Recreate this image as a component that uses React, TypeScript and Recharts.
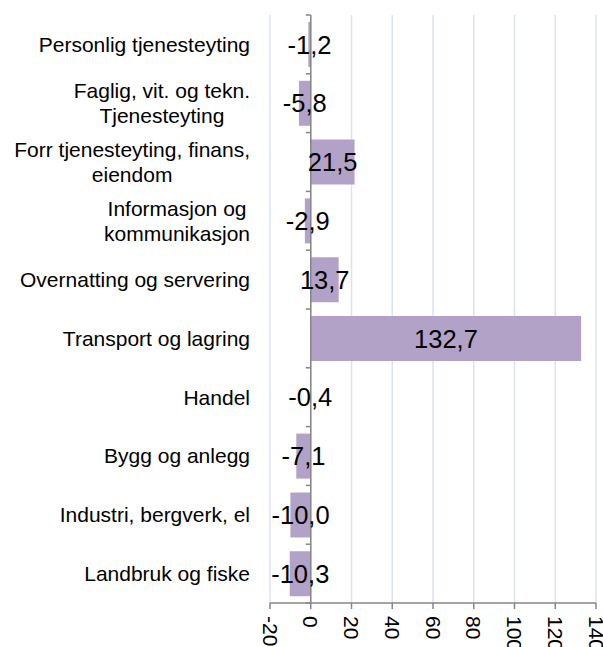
import React from "react";
import {
  BarChart,
  Bar,
  XAxis,
  YAxis,
  CartesianGrid,
  LabelList,
  ReferenceLine,
} from "recharts";

const categories = [
  "Personlig tjenesteyting",
  "Faglig, vit. og tekn.\nTjenesteyting",
  "Forr tjenesteyting, finans,\neiendom",
  "Informasjon og\nkommunikasjon",
  "Overnatting og servering",
  "Transport og lagring",
  "Handel",
  "Bygg og anlegg",
  "Industri, bergverk, el",
  "Landbruk og fiske",
];

const values = [-1.2, -5.8, 21.5, -2.9, 13.7, 132.7, -0.4, -7.1, -10.0, -10.3];

const xTicks = [-20, 0, 20, 40, 60, 80, 100, 120, 140];

const data = categories.map((c, i) => ({ name: c, value: values[i] }));

const FONT = '"Liberation Sans", Arial, sans-serif';
const CAT_FONT_SIZE = 21;
const LINE_H = 25;

let ctx: CanvasRenderingContext2D | null = null;
function measure(t: string): number {
  if (!ctx) {
    const c = document.createElement("canvas");
    ctx = c.getContext("2d");
  }
  if (!ctx) return t.length * CAT_FONT_SIZE * 0.5;
  ctx.font = `${CAT_FONT_SIZE}px "Liberation Sans", Arial, sans-serif`;
  return ctx.measureText(t).width;
}

const CatTick = (props: any) => {
  const { x, y, payload } = props;
  const lines = String(payload.value).split("\n");
  const maxW = Math.max(...lines.map(measure));
  const cx = x - maxW / 2;
  const startY = y - ((lines.length - 1) * LINE_H) / 2;
  return (
    <g>
      {lines.map((l, i) => (
        <text
          key={i}
          x={cx}
          y={startY + i * LINE_H}
          dy="0.35em"
          textAnchor="middle"
          fontSize={CAT_FONT_SIZE}
          fontFamily={FONT}
          fill="#000"
        >
          {l}
        </text>
      ))}
    </g>
  );
};

const XTick = (props: any) => {
  const { x, y, payload } = props;
  return (
    <text
      transform={`translate(${x},${y}) rotate(90)`}
      x={0}
      y={0}
      dy="0.35em"
      textAnchor="start"
      fontSize={21}
      fontFamily={FONT}
      fill="#000"
    >
      {String(payload.value)}
    </text>
  );
};

const ZeroLine = (props: any) => {
  const { x1, y1, x2, y2 } = props;
  const n = categories.length;
  const marks = [];
  for (let i = 0; i <= n; i++) {
    const yy = y1 + ((y2 - y1) * i) / n;
    marks.push(
      <line key={i} x1={x1 - 5} y1={yy} x2={x1} y2={yy} stroke="#868686" strokeWidth={1.5} />
    );
  }
  return (
    <g>
      <line x1={x1} y1={y1} x2={x2} y2={y2} stroke="#868686" strokeWidth={1.5} />
      {marks}
    </g>
  );
};

export default function App() {
  return (
    <div style={{ position: "absolute", left: 0, top: 0, background: "#fff" }}>
      <BarChart
        width={603}
        height={647}
        data={data}
        layout="vertical"
        margin={{ top: 15, right: 7, bottom: 0, left: 0 }}
      >
        <CartesianGrid horizontal={false} stroke="#D9E2F0" strokeWidth={1.5} />
        <XAxis
          type="number"
          domain={[-20, 140]}
          ticks={xTicks}
          interval={0}
          height={44}
          stroke="#868686"
          strokeWidth={1.5}
          tickSize={6}
          tickMargin={7}
          tick={<XTick />}
        />
        <YAxis
          type="category"
          dataKey="name"
          width={270}
          axisLine={false}
          tickLine={false}
          tickSize={0}
          tickMargin={20}
          interval={0}
          tick={<CatTick />}
        />
        <Bar dataKey="value" fill="#B3A2C7" barSize={45} isAnimationActive={false}>
          <LabelList
            dataKey="value"
            position="center"
            formatter={(v: any) => Number(v).toFixed(1).replace(".", ",")}
            fill="#000"
            fontSize={25.5}
            fontFamily={FONT}
          />
        </Bar>
        <ReferenceLine x={0} shape={<ZeroLine />} ifOverflow="visible" />
      </BarChart>
    </div>
  );
}
